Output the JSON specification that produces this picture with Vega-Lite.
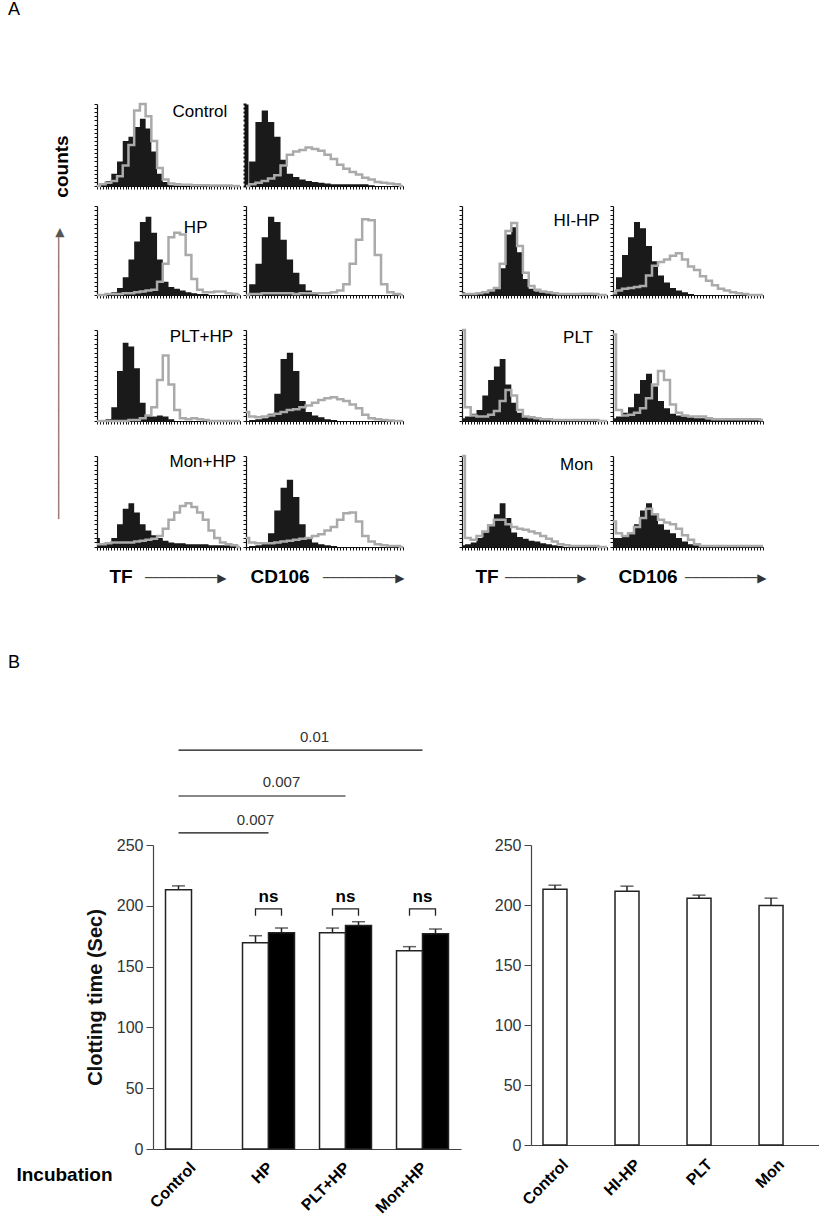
{
"$schema":"https://vega.github.io/schema/vega-lite/v6.json",
"padding":{"left":8,"top":1,"right":0,"bottom":0},
"bounds":"flush",
"columns":5,
"align":"each",
"spacing":{"row":0,"column":6},
"config":{
 "view":{"stroke":null},
 "font":"Liberation Sans",
 "axis":{"labels":false,"grid":false,"domainColor":"#111","tickColor":"#111","tickSize":3,"domainWidth":1.2,"tickWidth":1},
 "axisX":{"tickCount":40},
 "axisY":{"tickCount":20},
 "title":{"font":"Liberation Sans","fontWeight":"normal","color":"#000","anchor":"start","frame":"group"},
 "text":{"font":"Liberation Sans"}
},
"datasets":{
"lab":[{"p":"C1","t":"Control"},{"p":"H1","t":"HP"},{"p":"P1","t":"PLT+HP"},{"p":"M1","t":"Mon+HP"},{"p":"I1","t":"HI-HP"},{"p":"L1","t":"PLT"},{"p":"N1","t":"Mon"}],
"bars":[
{"c":"L","g":"Control","s":"white","v":213.1,"e":216.4},
{"c":"L","g":"HP","s":"white","v":169.7,"e":175.4},
{"c":"L","g":"HP","s":"black","v":177.9,"e":181.7},
{"c":"L","g":"PLT+HP","s":"white","v":177.9,"e":181.7},
{"c":"L","g":"PLT+HP","s":"black","v":183.9,"e":186.9},
{"c":"L","g":"Mon+HP","s":"white","v":163.1,"e":166.4},
{"c":"L","g":"Mon+HP","s":"black","v":177.0,"e":180.9},
{"c":"R","g":"Control","s":"white","v":213.2,"e":216.5},
{"c":"R","g":"HI-HP","s":"white","v":211.5,"e":215.7},
{"c":"R","g":"PLT","s":"white","v":205.7,"e":208.2},
{"c":"R","g":"Mon","s":"white","v":199.6,"e":205.7}],
"sig":[{"g":"Control","s":"white","g2":"HP","y":259.9},{"g":"Control","s":"white","g2":"PLT+HP","y":290.3},{"g":"Control","s":"white","g2":"Mon+HP","y":328.1}],
"sigt":[{"g":"HP","s":"white","y":270.6,"t":"0.007"},{"g":"HP","s":"black","y":301.8,"t":"0.007"},{"g":"PLT+HP","s":"white","y":338.8,"t":"0.01"}],
"ns":[
{"g":"HP","s":"white","y":191.9,"o":1},{"g":"HP","s":"white","y":197.4,"o":2},{"g":"HP","s":"black","y":197.4,"o":3},{"g":"HP","s":"black","y":191.9,"o":4},
{"g":"PLT+HP","s":"white","y":191.9,"o":1},{"g":"PLT+HP","s":"white","y":197.4,"o":2},{"g":"PLT+HP","s":"black","y":197.4,"o":3},{"g":"PLT+HP","s":"black","y":191.9,"o":4},
{"g":"Mon+HP","s":"white","y":191.9,"o":1},{"g":"Mon+HP","s":"white","y":197.4,"o":2},{"g":"Mon+HP","s":"black","y":197.4,"o":3},{"g":"Mon+HP","s":"black","y":191.9,"o":4}],
"nst":[{"g":"HP","y":203.5,"t":"ns"},{"g":"PLT+HP","y":203.5,"t":"ns"},{"g":"Mon+HP","y":203.5,"t":"ns"}],
"h":[
{"p":"C1","x":0,"f":0,"g":0},{"p":"C1","x":4,"f":2,"g":2},{"p":"C1","x":8,"f":6,"g":4},{"p":"C1","x":12,"f":15,"g":6},{"p":"C1","x":16,"f":30,"g":12},{"p":"C1","x":20,"f":55,"g":25},{"p":"C1","x":24,"f":60,"g":50},{"p":"C1","x":28,"f":72,"g":92},{"p":"C1","x":32,"f":82,"g":100},{"p":"C1","x":36,"f":70,"g":85},{"p":"C1","x":40,"f":42,"g":55},{"p":"C1","x":44,"f":15,"g":22},{"p":"C1","x":48,"f":5,"g":8},{"p":"C1","x":52,"f":1,"g":3},{"p":"C1","x":56,"f":0.5,"g":2},{"p":"C1","x":60,"f":0,"g":1.5},{"p":"C1","x":64,"f":0,"g":1.5},{"p":"C1","x":68,"f":0,"g":1},{"p":"C1","x":72,"f":0,"g":1},{"p":"C1","x":76,"f":0,"g":1},{"p":"C1","x":80,"f":0,"g":0.5},{"p":"C1","x":84,"f":0,"g":0.5},{"p":"C1","x":88,"f":0,"g":0.5},{"p":"C1","x":92,"f":0,"g":0.5},{"p":"C1","x":96,"f":0,"g":0},{"p":"C1","x":100,"f":0,"g":0},
{"p":"C2","x":0,"f":0,"g":0},{"p":"C2","x":4,"f":30,"g":2},{"p":"C2","x":8,"f":78,"g":4},{"p":"C2","x":12,"f":92,"g":6},{"p":"C2","x":16,"f":78,"g":9},{"p":"C2","x":20,"f":60,"g":13},{"p":"C2","x":24,"f":32,"g":25},{"p":"C2","x":28,"f":15,"g":38},{"p":"C2","x":32,"f":11,"g":42},{"p":"C2","x":36,"f":8,"g":44},{"p":"C2","x":40,"f":6,"g":47},{"p":"C2","x":44,"f":5,"g":45},{"p":"C2","x":48,"f":4,"g":43},{"p":"C2","x":52,"f":3,"g":38},{"p":"C2","x":56,"f":2,"g":33},{"p":"C2","x":60,"f":2,"g":26},{"p":"C2","x":64,"f":2,"g":21},{"p":"C2","x":68,"f":2,"g":17},{"p":"C2","x":72,"f":2,"g":14},{"p":"C2","x":76,"f":2,"g":10},{"p":"C2","x":80,"f":1,"g":8},{"p":"C2","x":84,"f":0,"g":5},{"p":"C2","x":88,"f":0,"g":4},{"p":"C2","x":92,"f":0,"g":3},{"p":"C2","x":96,"f":0,"g":2},{"p":"C2","x":100,"f":0,"g":0},
{"p":"H1","x":0,"f":0,"g":0},{"p":"H1","x":4,"f":0,"g":0},{"p":"H1","x":8,"f":1,"g":1},{"p":"H1","x":12,"f":3,"g":1},{"p":"H1","x":16,"f":8,"g":1},{"p":"H1","x":20,"f":20,"g":2},{"p":"H1","x":24,"f":40,"g":2},{"p":"H1","x":28,"f":60,"g":3},{"p":"H1","x":32,"f":82,"g":4},{"p":"H1","x":36,"f":88,"g":5},{"p":"H1","x":40,"f":70,"g":6},{"p":"H1","x":44,"f":40,"g":15},{"p":"H1","x":48,"f":15,"g":35},{"p":"H1","x":52,"f":9,"g":65},{"p":"H1","x":56,"f":7,"g":70},{"p":"H1","x":60,"f":5,"g":68},{"p":"H1","x":64,"f":3,"g":45},{"p":"H1","x":68,"f":2,"g":18},{"p":"H1","x":72,"f":1,"g":6},{"p":"H1","x":76,"f":1,"g":3},{"p":"H1","x":80,"f":0,"g":3},{"p":"H1","x":84,"f":0,"g":4},{"p":"H1","x":88,"f":0,"g":4},{"p":"H1","x":92,"f":0,"g":2},{"p":"H1","x":96,"f":0,"g":1},{"p":"H1","x":100,"f":0,"g":0},
{"p":"H2","x":0,"f":0,"g":0},{"p":"H2","x":4,"f":12,"g":1},{"p":"H2","x":8,"f":35,"g":1},{"p":"H2","x":12,"f":65,"g":2},{"p":"H2","x":16,"f":88,"g":2},{"p":"H2","x":20,"f":82,"g":2},{"p":"H2","x":24,"f":62,"g":2},{"p":"H2","x":28,"f":40,"g":2},{"p":"H2","x":32,"f":25,"g":1},{"p":"H2","x":36,"f":12,"g":2},{"p":"H2","x":40,"f":5,"g":2},{"p":"H2","x":44,"f":2,"g":2},{"p":"H2","x":48,"f":0,"g":2},{"p":"H2","x":52,"f":0,"g":2},{"p":"H2","x":56,"f":0,"g":3},{"p":"H2","x":60,"f":0,"g":5},{"p":"H2","x":64,"f":0,"g":12},{"p":"H2","x":68,"f":0,"g":35},{"p":"H2","x":72,"f":0,"g":62},{"p":"H2","x":76,"f":0,"g":85},{"p":"H2","x":80,"f":0,"g":84},{"p":"H2","x":84,"f":0,"g":45},{"p":"H2","x":88,"f":0,"g":12},{"p":"H2","x":92,"f":0,"g":3},{"p":"H2","x":96,"f":0,"g":1},{"p":"H2","x":100,"f":0,"g":0},
{"p":"P1","x":0,"f":0,"g":0},{"p":"P1","x":4,"f":0,"g":0},{"p":"P1","x":8,"f":2,"g":0},{"p":"P1","x":12,"f":15,"g":0},{"p":"P1","x":16,"f":55,"g":0},{"p":"P1","x":20,"f":86,"g":0},{"p":"P1","x":24,"f":82,"g":1},{"p":"P1","x":28,"f":58,"g":1},{"p":"P1","x":32,"f":20,"g":3},{"p":"P1","x":36,"f":6,"g":6},{"p":"P1","x":40,"f":5,"g":15},{"p":"P1","x":44,"f":6,"g":45},{"p":"P1","x":48,"f":5,"g":72},{"p":"P1","x":52,"f":2,"g":40},{"p":"P1","x":56,"f":0,"g":12},{"p":"P1","x":60,"f":0,"g":3},{"p":"P1","x":64,"f":0,"g":2},{"p":"P1","x":68,"f":0,"g":3},{"p":"P1","x":72,"f":0,"g":2},{"p":"P1","x":76,"f":0,"g":1},{"p":"P1","x":80,"f":0,"g":0},{"p":"P1","x":84,"f":0,"g":0},{"p":"P1","x":88,"f":0,"g":0},{"p":"P1","x":92,"f":0,"g":0},{"p":"P1","x":96,"f":0,"g":0},{"p":"P1","x":100,"f":0,"g":0},
{"p":"P2","x":0,"f":0,"g":10},{"p":"P2","x":4,"f":1,"g":5},{"p":"P2","x":8,"f":2,"g":4},{"p":"P2","x":12,"f":3,"g":5},{"p":"P2","x":16,"f":8,"g":6},{"p":"P2","x":20,"f":30,"g":8},{"p":"P2","x":24,"f":68,"g":10},{"p":"P2","x":28,"f":75,"g":12},{"p":"P2","x":32,"f":55,"g":13},{"p":"P2","x":36,"f":22,"g":15},{"p":"P2","x":40,"f":10,"g":17},{"p":"P2","x":44,"f":6,"g":20},{"p":"P2","x":48,"f":4,"g":23},{"p":"P2","x":52,"f":2,"g":25},{"p":"P2","x":56,"f":1,"g":26},{"p":"P2","x":60,"f":0,"g":24},{"p":"P2","x":64,"f":0,"g":22},{"p":"P2","x":68,"f":0,"g":18},{"p":"P2","x":72,"f":0,"g":14},{"p":"P2","x":76,"f":0,"g":7},{"p":"P2","x":80,"f":0,"g":3},{"p":"P2","x":84,"f":0,"g":2},{"p":"P2","x":88,"f":0,"g":1},{"p":"P2","x":92,"f":0,"g":0.5},{"p":"P2","x":96,"f":0,"g":0},{"p":"P2","x":100,"f":0,"g":0},
{"p":"M1","x":0,"f":10,"g":3},{"p":"M1","x":4,"f":3,"g":3},{"p":"M1","x":8,"f":4,"g":4},{"p":"M1","x":12,"f":10,"g":5},{"p":"M1","x":16,"f":25,"g":5},{"p":"M1","x":20,"f":42,"g":5},{"p":"M1","x":24,"f":48,"g":5},{"p":"M1","x":28,"f":38,"g":6},{"p":"M1","x":32,"f":25,"g":7},{"p":"M1","x":36,"f":18,"g":8},{"p":"M1","x":40,"f":13,"g":9},{"p":"M1","x":44,"f":10,"g":12},{"p":"M1","x":48,"f":7,"g":20},{"p":"M1","x":52,"f":5,"g":30},{"p":"M1","x":56,"f":4,"g":38},{"p":"M1","x":60,"f":4,"g":45},{"p":"M1","x":64,"f":3,"g":48},{"p":"M1","x":68,"f":3,"g":44},{"p":"M1","x":72,"f":3,"g":38},{"p":"M1","x":76,"f":3,"g":30},{"p":"M1","x":80,"f":2,"g":18},{"p":"M1","x":84,"f":2,"g":10},{"p":"M1","x":88,"f":2,"g":5},{"p":"M1","x":92,"f":2,"g":3},{"p":"M1","x":96,"f":1,"g":2},{"p":"M1","x":100,"f":0,"g":0},
{"p":"M2","x":0,"f":0,"g":10},{"p":"M2","x":4,"f":1,"g":5},{"p":"M2","x":8,"f":2,"g":4},{"p":"M2","x":12,"f":5,"g":4},{"p":"M2","x":16,"f":15,"g":4},{"p":"M2","x":20,"f":40,"g":5},{"p":"M2","x":24,"f":65,"g":6},{"p":"M2","x":28,"f":74,"g":7},{"p":"M2","x":32,"f":55,"g":8},{"p":"M2","x":36,"f":25,"g":9},{"p":"M2","x":40,"f":10,"g":10},{"p":"M2","x":44,"f":5,"g":12},{"p":"M2","x":48,"f":3,"g":14},{"p":"M2","x":52,"f":2,"g":18},{"p":"M2","x":56,"f":1,"g":22},{"p":"M2","x":60,"f":0,"g":30},{"p":"M2","x":64,"f":0,"g":37},{"p":"M2","x":68,"f":0,"g":38},{"p":"M2","x":72,"f":0,"g":28},{"p":"M2","x":76,"f":0,"g":12},{"p":"M2","x":80,"f":0,"g":6},{"p":"M2","x":84,"f":0,"g":3},{"p":"M2","x":88,"f":0,"g":2},{"p":"M2","x":92,"f":0,"g":1},{"p":"M2","x":96,"f":0,"g":1},{"p":"M2","x":100,"f":0,"g":0},
{"p":"I1","x":0,"f":3,"g":1},{"p":"I1","x":4,"f":2,"g":1},{"p":"I1","x":8,"f":2,"g":1},{"p":"I1","x":12,"f":3,"g":2},{"p":"I1","x":16,"f":4,"g":3},{"p":"I1","x":20,"f":6,"g":5},{"p":"I1","x":24,"f":8,"g":8},{"p":"I1","x":28,"f":30,"g":35},{"p":"I1","x":32,"f":68,"g":72},{"p":"I1","x":36,"f":76,"g":81},{"p":"I1","x":40,"f":48,"g":55},{"p":"I1","x":44,"f":18,"g":25},{"p":"I1","x":48,"f":7,"g":10},{"p":"I1","x":52,"f":4,"g":6},{"p":"I1","x":56,"f":3,"g":4},{"p":"I1","x":60,"f":2,"g":3},{"p":"I1","x":64,"f":1,"g":2},{"p":"I1","x":68,"f":0,"g":1},{"p":"I1","x":72,"f":0,"g":1},{"p":"I1","x":76,"f":0,"g":1},{"p":"I1","x":80,"f":0,"g":1},{"p":"I1","x":84,"f":0,"g":1.5},{"p":"I1","x":88,"f":0,"g":1.5},{"p":"I1","x":92,"f":0,"g":1},{"p":"I1","x":96,"f":0,"g":0},{"p":"I1","x":100,"f":0,"g":0},
{"p":"I2","x":0,"f":2,"g":2},{"p":"I2","x":4,"f":20,"g":5},{"p":"I2","x":8,"f":45,"g":7},{"p":"I2","x":12,"f":65,"g":8},{"p":"I2","x":16,"f":82,"g":9},{"p":"I2","x":20,"f":75,"g":10},{"p":"I2","x":24,"f":55,"g":22},{"p":"I2","x":28,"f":38,"g":33},{"p":"I2","x":32,"f":22,"g":37},{"p":"I2","x":36,"f":14,"g":40},{"p":"I2","x":40,"f":8,"g":44},{"p":"I2","x":44,"f":5,"g":47},{"p":"I2","x":48,"f":3,"g":40},{"p":"I2","x":52,"f":1,"g":32},{"p":"I2","x":56,"f":0,"g":28},{"p":"I2","x":60,"f":0,"g":21},{"p":"I2","x":64,"f":0,"g":16},{"p":"I2","x":68,"f":0,"g":11},{"p":"I2","x":72,"f":0,"g":7},{"p":"I2","x":76,"f":0,"g":5},{"p":"I2","x":80,"f":0,"g":3},{"p":"I2","x":84,"f":0,"g":2},{"p":"I2","x":88,"f":0,"g":1},{"p":"I2","x":92,"f":0,"g":0},{"p":"I2","x":96,"f":0,"g":0},{"p":"I2","x":100,"f":0,"g":0},
{"p":"L1","x":0,"f":3,"g":100},{"p":"L1","x":4,"f":5,"g":15},{"p":"L1","x":8,"f":8,"g":6},{"p":"L1","x":12,"f":12,"g":5},{"p":"L1","x":16,"f":28,"g":5},{"p":"L1","x":20,"f":45,"g":7},{"p":"L1","x":24,"f":60,"g":11},{"p":"L1","x":28,"f":68,"g":22},{"p":"L1","x":32,"f":40,"g":34},{"p":"L1","x":36,"f":20,"g":28},{"p":"L1","x":40,"f":9,"g":12},{"p":"L1","x":44,"f":5,"g":5},{"p":"L1","x":48,"f":4,"g":4},{"p":"L1","x":52,"f":3,"g":3},{"p":"L1","x":56,"f":2,"g":2},{"p":"L1","x":60,"f":1,"g":2},{"p":"L1","x":64,"f":0,"g":1},{"p":"L1","x":68,"f":0,"g":1},{"p":"L1","x":72,"f":0,"g":1},{"p":"L1","x":76,"f":0,"g":1},{"p":"L1","x":80,"f":0,"g":1},{"p":"L1","x":84,"f":0,"g":1},{"p":"L1","x":88,"f":0,"g":1},{"p":"L1","x":92,"f":0,"g":1},{"p":"L1","x":96,"f":0,"g":0},{"p":"L1","x":100,"f":0,"g":0},
{"p":"L2","x":0,"f":3,"g":95},{"p":"L2","x":4,"f":5,"g":12},{"p":"L2","x":8,"f":9,"g":6},{"p":"L2","x":12,"f":15,"g":7},{"p":"L2","x":16,"f":30,"g":9},{"p":"L2","x":20,"f":45,"g":14},{"p":"L2","x":24,"f":52,"g":25},{"p":"L2","x":28,"f":38,"g":40},{"p":"L2","x":32,"f":22,"g":55},{"p":"L2","x":36,"f":14,"g":45},{"p":"L2","x":40,"f":8,"g":18},{"p":"L2","x":44,"f":6,"g":9},{"p":"L2","x":48,"f":5,"g":6},{"p":"L2","x":52,"f":4,"g":5},{"p":"L2","x":56,"f":3,"g":5},{"p":"L2","x":60,"f":3,"g":5},{"p":"L2","x":64,"f":2,"g":3},{"p":"L2","x":68,"f":2,"g":2},{"p":"L2","x":72,"f":2,"g":2},{"p":"L2","x":76,"f":1,"g":2},{"p":"L2","x":80,"f":1,"g":2},{"p":"L2","x":84,"f":1,"g":2},{"p":"L2","x":88,"f":1,"g":2},{"p":"L2","x":92,"f":1,"g":2},{"p":"L2","x":96,"f":1,"g":2},{"p":"L2","x":100,"f":1,"g":1},
{"p":"N1","x":0,"f":2,"g":100},{"p":"N1","x":4,"f":3,"g":10},{"p":"N1","x":8,"f":5,"g":8},{"p":"N1","x":12,"f":10,"g":12},{"p":"N1","x":16,"f":16,"g":17},{"p":"N1","x":20,"f":24,"g":24},{"p":"N1","x":24,"f":36,"g":30},{"p":"N1","x":28,"f":48,"g":30},{"p":"N1","x":32,"f":32,"g":25},{"p":"N1","x":36,"f":16,"g":22},{"p":"N1","x":40,"f":11,"g":20},{"p":"N1","x":44,"f":9,"g":19},{"p":"N1","x":48,"f":7,"g":17},{"p":"N1","x":52,"f":6,"g":15},{"p":"N1","x":56,"f":4,"g":12},{"p":"N1","x":60,"f":3,"g":9},{"p":"N1","x":64,"f":2,"g":6},{"p":"N1","x":68,"f":1,"g":3},{"p":"N1","x":72,"f":0,"g":2},{"p":"N1","x":76,"f":0,"g":1},{"p":"N1","x":80,"f":0,"g":1},{"p":"N1","x":84,"f":0,"g":1},{"p":"N1","x":88,"f":0,"g":1},{"p":"N1","x":92,"f":0,"g":1},{"p":"N1","x":96,"f":0,"g":0},{"p":"N1","x":100,"f":0,"g":0},
{"p":"N2","x":0,"f":10,"g":28},{"p":"N2","x":4,"f":10,"g":15},{"p":"N2","x":8,"f":12,"g":12},{"p":"N2","x":12,"f":15,"g":15},{"p":"N2","x":16,"f":25,"g":22},{"p":"N2","x":20,"f":40,"g":32},{"p":"N2","x":24,"f":48,"g":42},{"p":"N2","x":28,"f":36,"g":36},{"p":"N2","x":32,"f":25,"g":30},{"p":"N2","x":36,"f":19,"g":27},{"p":"N2","x":40,"f":15,"g":25},{"p":"N2","x":44,"f":10,"g":20},{"p":"N2","x":48,"f":6,"g":13},{"p":"N2","x":52,"f":3,"g":8},{"p":"N2","x":56,"f":2,"g":3},{"p":"N2","x":60,"f":1,"g":1},{"p":"N2","x":64,"f":1,"g":1},{"p":"N2","x":68,"f":1,"g":1},{"p":"N2","x":72,"f":1,"g":1},{"p":"N2","x":76,"f":1,"g":1},{"p":"N2","x":80,"f":2,"g":1},{"p":"N2","x":84,"f":2,"g":1},{"p":"N2","x":88,"f":2,"g":1},{"p":"N2","x":92,"f":2,"g":1},{"p":"N2","x":96,"f":2,"g":1},{"p":"N2","x":100,"f":2,"g":1}
]
},
"concat":[
  {"width":143,"height":82,
   "title":{"text":"A","fontSize":18,"dx":-89,"dy":-76},
   "layer":[
    {"data":{"name":"h"},"transform":[{"filter":"datum.p==='C1'"}],
     "encoding":{"x":{"field":"x","type":"quantitative","title":null,"scale":{"domain":[0,100],"nice":false}}},
     "layer":[
      {"mark":{"type":"area","interpolate":"step","color":"#1a1a1a"},"encoding":{"y":{"field":"f","type":"quantitative","scale":{"domain":[0,100],"nice":false},"axis":{"title":"counts","titleX":-36,"titleY":62,"titleAngle":270,"titleAlign":"center","titleBaseline":"middle","titleFontSize":19,"titleFontWeight":"bold","titleColor":"#000"}}}},
      {"mark":{"type":"line","interpolate":"step","color":"#aaaaaa","strokeWidth":2.5},"encoding":{"y":{"field":"g","type":"quantitative"}}}
     ]},
    {"data":{"name":"lab"},"transform":[{"filter":"datum.p==='C1'"}],"mark":{"type":"text","fontSize":17},"encoding":{"x":{"datum":72,"type":"quantitative"},"y":{"datum":90,"type":"quantitative"},"text":{"field":"t"}}}
   ]},
  {"width":157,"height":82,
   "data":{"name":"h"},"transform":[{"filter":"datum.p==='C2'"}],
   "encoding":{"x":{"field":"x","type":"quantitative","title":null,"scale":{"domain":[0,100],"nice":false}}},
   "layer":[
    {"mark":{"type":"area","interpolate":"step","color":"#1a1a1a"},"encoding":{"y":{"field":"f","type":"quantitative","title":null,"scale":{"domain":[0,100],"nice":false},"axis":{"domainWidth":4,"tickWidth":2}}}},
    {"mark":{"type":"line","interpolate":"step","color":"#aaaaaa","strokeWidth":2.5},"encoding":{"y":{"field":"g","type":"quantitative"}}}
   ]},
  {"width":47,"height":102,"data":{"values":[]},"mark":"point"},
  {"width":145,"height":1,"data":{"values":[]},"mark":"point"},
  {"width":150,"height":1,"data":{"values":[]},"mark":"point"},

  {"width":143,"height":89,
   "layer":[
    {"data":{"name":"h"},"transform":[{"filter":"datum.p==='H1'"}],
     "encoding":{"x":{"field":"x","type":"quantitative","title":null,"scale":{"domain":[0,100],"nice":false}}},
     "layer":[
      {"mark":{"type":"area","interpolate":"step","color":"#1a1a1a"},"encoding":{"y":{"field":"f","type":"quantitative","scale":{"domain":[0,100],"nice":false},"axis":{"title":"───────────────────────────────────────▶","titleX":-39,"titleY":167,"titleAngle":270,"titleAlign":"center","titleBaseline":"middle","titleFont":"DejaVu Sans","titleFontSize":12,"titleFontWeight":"normal","titleColor":"#555"}}}},
      {"mark":{"type":"line","interpolate":"step","color":"#aaaaaa","strokeWidth":2.5},"encoding":{"y":{"field":"g","type":"quantitative"}}}
     ]},
    {"data":{"name":"lab"},"transform":[{"filter":"datum.p==='H1'"}],"mark":{"type":"text","fontSize":17},"encoding":{"x":{"datum":69,"type":"quantitative"},"y":{"datum":75,"type":"quantitative"},"text":{"field":"t"}}}
   ]},
  {"width":157,"height":89,
   "data":{"name":"h"},"transform":[{"filter":"datum.p==='H2'"}],
   "encoding":{"x":{"field":"x","type":"quantitative","title":null,"scale":{"domain":[0,100],"nice":false}}},
   "layer":[
    {"mark":{"type":"area","interpolate":"step","color":"#1a1a1a"},"encoding":{"y":{"field":"f","type":"quantitative","title":null,"scale":{"domain":[0,100],"nice":false}}}},
    {"mark":{"type":"line","interpolate":"step","color":"#aaaaaa","strokeWidth":2.5},"encoding":{"y":{"field":"g","type":"quantitative"}}}
   ]},
  {"width":47,"height":124,"data":{"values":[]},"mark":"point"},
  {"width":145,"height":89,
   "layer":[
    {"data":{"name":"h"},"transform":[{"filter":"datum.p==='I1'"}],
     "encoding":{"x":{"field":"x","type":"quantitative","title":null,"scale":{"domain":[0,100],"nice":false}}},
     "layer":[
      {"mark":{"type":"area","interpolate":"step","color":"#1a1a1a"},"encoding":{"y":{"field":"f","type":"quantitative","title":null,"scale":{"domain":[0,100],"nice":false}}}},
      {"mark":{"type":"line","interpolate":"step","color":"#aaaaaa","strokeWidth":2.5},"encoding":{"y":{"field":"g","type":"quantitative"}}}
     ]},
    {"data":{"name":"lab"},"transform":[{"filter":"datum.p==='I1'"}],"mark":{"type":"text","fontSize":17},"encoding":{"x":{"datum":79,"type":"quantitative"},"y":{"datum":83,"type":"quantitative"},"text":{"field":"t"}}}
   ]},
  {"width":150,"height":89,
   "data":{"name":"h"},"transform":[{"filter":"datum.p==='I2'"}],
   "encoding":{"x":{"field":"x","type":"quantitative","title":null,"scale":{"domain":[0,100],"nice":false}}},
   "layer":[
    {"mark":{"type":"area","interpolate":"step","color":"#1a1a1a"},"encoding":{"y":{"field":"f","type":"quantitative","title":null,"scale":{"domain":[0,100],"nice":false}}}},
    {"mark":{"type":"line","interpolate":"step","color":"#aaaaaa","strokeWidth":2.5},"encoding":{"y":{"field":"g","type":"quantitative"}}}
   ]},

  {"width":143,"height":91,
   "layer":[
    {"data":{"name":"h"},"transform":[{"filter":"datum.p==='P1'"}],
     "encoding":{"x":{"field":"x","type":"quantitative","title":null,"scale":{"domain":[0,100],"nice":false}}},
     "layer":[
      {"mark":{"type":"area","interpolate":"step","color":"#1a1a1a"},"encoding":{"y":{"field":"f","type":"quantitative","title":null,"scale":{"domain":[0,100],"nice":false}}}},
      {"mark":{"type":"line","interpolate":"step","color":"#aaaaaa","strokeWidth":2.5},"encoding":{"y":{"field":"g","type":"quantitative"}}}
     ]},
    {"data":{"name":"lab"},"transform":[{"filter":"datum.p==='P1'"}],"mark":{"type":"text","fontSize":17},"encoding":{"x":{"datum":73,"type":"quantitative"},"y":{"datum":92,"type":"quantitative"},"text":{"field":"t"}}}
   ]},
  {"width":157,"height":91,
   "data":{"name":"h"},"transform":[{"filter":"datum.p==='P2'"}],
   "encoding":{"x":{"field":"x","type":"quantitative","title":null,"scale":{"domain":[0,100],"nice":false}}},
   "layer":[
    {"mark":{"type":"area","interpolate":"step","color":"#1a1a1a"},"encoding":{"y":{"field":"f","type":"quantitative","title":null,"scale":{"domain":[0,100],"nice":false}}}},
    {"mark":{"type":"line","interpolate":"step","color":"#aaaaaa","strokeWidth":2.5},"encoding":{"y":{"field":"g","type":"quantitative"}}}
   ]},
  {"width":47,"height":126,"data":{"values":[]},"mark":"point"},
  {"width":145,"height":91,
   "layer":[
    {"data":{"name":"h"},"transform":[{"filter":"datum.p==='L1'"}],
     "encoding":{"x":{"field":"x","type":"quantitative","title":null,"scale":{"domain":[0,100],"nice":false}}},
     "layer":[
      {"mark":{"type":"area","interpolate":"step","color":"#1a1a1a"},"encoding":{"y":{"field":"f","type":"quantitative","title":null,"scale":{"domain":[0,100],"nice":false}}}},
      {"mark":{"type":"line","interpolate":"step","color":"#aaaaaa","strokeWidth":2.5},"encoding":{"y":{"field":"g","type":"quantitative"}}}
     ]},
    {"data":{"name":"lab"},"transform":[{"filter":"datum.p==='L1'"}],"mark":{"type":"text","fontSize":17},"encoding":{"x":{"datum":80,"type":"quantitative"},"y":{"datum":91,"type":"quantitative"},"text":{"field":"t"}}}
   ]},
  {"width":150,"height":91,
   "data":{"name":"h"},"transform":[{"filter":"datum.p==='L2'"}],
   "encoding":{"x":{"field":"x","type":"quantitative","title":null,"scale":{"domain":[0,100],"nice":false}}},
   "layer":[
    {"mark":{"type":"area","interpolate":"step","color":"#1a1a1a"},"encoding":{"y":{"field":"f","type":"quantitative","title":null,"scale":{"domain":[0,100],"nice":false}}}},
    {"mark":{"type":"line","interpolate":"step","color":"#aaaaaa","strokeWidth":2.5},"encoding":{"y":{"field":"g","type":"quantitative"}}}
   ]},

  {"width":143,"height":91,
   "title":{"text":"──────────▶","orient":"bottom","font":"DejaVu Sans","fontSize":12,"color":"#333","dx":48,"dy":-17},
   "layer":[
    {"data":{"name":"h"},"transform":[{"filter":"datum.p==='M1'"}],
     "encoding":{"x":{"field":"x","type":"quantitative","title":"TF","scale":{"domain":[0,100],"nice":false},"axis":{"titleX":12,"titleY":29,"titleAlign":"left","titleBaseline":"middle","titleFontSize":19,"titleFontWeight":"bold","titleColor":"#000"}}},
     "layer":[
      {"mark":{"type":"area","interpolate":"step","color":"#1a1a1a"},"encoding":{"y":{"field":"f","type":"quantitative","title":null,"scale":{"domain":[0,100],"nice":false}}}},
      {"mark":{"type":"line","interpolate":"step","color":"#aaaaaa","strokeWidth":2.5},"encoding":{"y":{"field":"g","type":"quantitative"}}}
     ]},
    {"data":{"name":"lab"},"transform":[{"filter":"datum.p==='M1'"}],"mark":{"type":"text","fontSize":17},"encoding":{"x":{"datum":74,"type":"quantitative"},"y":{"datum":93,"type":"quantitative"},"text":{"field":"t"}}}
   ]},
  {"width":157,"height":91,
   "title":{"text":"──────────▶","orient":"bottom","font":"DejaVu Sans","fontSize":12,"color":"#333","dx":77,"dy":-17},
   "data":{"name":"h"},"transform":[{"filter":"datum.p==='M2'"}],
   "encoding":{"x":{"field":"x","type":"quantitative","title":"CD106","scale":{"domain":[0,100],"nice":false},"axis":{"titleX":4,"titleY":29,"titleAlign":"left","titleBaseline":"middle","titleFontSize":19,"titleFontWeight":"bold","titleColor":"#000"}}},
   "layer":[
    {"mark":{"type":"area","interpolate":"step","color":"#1a1a1a"},"encoding":{"y":{"field":"f","type":"quantitative","title":null,"scale":{"domain":[0,100],"nice":false}}}},
    {"mark":{"type":"line","interpolate":"step","color":"#aaaaaa","strokeWidth":2.5},"encoding":{"y":{"field":"g","type":"quantitative"}}}
   ]},
  {"width":47,"height":389,"data":{"values":[]},"mark":"point"},
  {"width":145,"height":91,
   "title":{"text":"──────────▶","orient":"bottom","font":"DejaVu Sans","fontSize":12,"color":"#333","dx":43,"dy":-17},
   "layer":[
    {"data":{"name":"h"},"transform":[{"filter":"datum.p==='N1'"}],
     "encoding":{"x":{"field":"x","type":"quantitative","title":"TF","scale":{"domain":[0,100],"nice":false},"axis":{"titleX":13,"titleY":29,"titleAlign":"left","titleBaseline":"middle","titleFontSize":19,"titleFontWeight":"bold","titleColor":"#000"}}},
     "layer":[
      {"mark":{"type":"area","interpolate":"step","color":"#1a1a1a"},"encoding":{"y":{"field":"f","type":"quantitative","title":null,"scale":{"domain":[0,100],"nice":false}}}},
      {"mark":{"type":"line","interpolate":"step","color":"#aaaaaa","strokeWidth":2.5},"encoding":{"y":{"field":"g","type":"quantitative"}}}
     ]},
    {"data":{"name":"lab"},"transform":[{"filter":"datum.p==='N1'"}],"mark":{"type":"text","fontSize":17},"encoding":{"x":{"datum":79,"type":"quantitative"},"y":{"datum":90,"type":"quantitative"},"text":{"field":"t"}}}
   ]},
  {"width":150,"height":91,
   "title":{"text":"──────────▶","orient":"bottom","font":"DejaVu Sans","fontSize":12,"color":"#333","dx":72,"dy":-17},
   "data":{"name":"h"},"transform":[{"filter":"datum.p==='N2'"}],
   "encoding":{"x":{"field":"x","type":"quantitative","title":"CD106","scale":{"domain":[0,100],"nice":false},"axis":{"titleX":5,"titleY":29,"titleAlign":"left","titleBaseline":"middle","titleFontSize":19,"titleFontWeight":"bold","titleColor":"#000"}}},
   "layer":[
    {"mark":{"type":"area","interpolate":"step","color":"#1a1a1a"},"encoding":{"y":{"field":"f","type":"quantitative","title":null,"scale":{"domain":[0,100],"nice":false}}}},
    {"mark":{"type":"line","interpolate":"step","color":"#aaaaaa","strokeWidth":2.5},"encoding":{"y":{"field":"g","type":"quantitative"}}}
   ]},

  {"bounds":"flush","spacing":0,"hconcat":[
   {"width":56,"height":1,"data":{"values":[]},"mark":"point"},
   {"width":308,"height":304,
    "title":{"text":"B","fontSize":18,"dx":-145,"dy":-54},
    "layer":[
     {"data":{"name":"bars"},"transform":[{"filter":"datum.c==='L'"}],
      "encoding":{
       "x":{"field":"g","type":"nominal","title":"Incubation","scale":{"domain":["Control","HP","PLT+HP","Mon+HP"],"paddingInner":0.325,"paddingOuter":0.1625},
            "axis":{"labels":true,"labelAngle":-45,"labelAlign":"right","labelBaseline":"top","labelFontSize":16,"labelFontWeight":"bold","labelColor":"#000","ticks":false,"labelPadding":10,"labelOffset":-4,"domainColor":"#444","domainWidth":1.2,"titleX":-41,"titleY":25,"titleAlign":"right","titleBaseline":"middle","titleFontSize":19,"titleFontWeight":"bold","titleColor":"#000"}},
       "xOffset":{"field":"s","type":"nominal","scale":{"domain":["white","black"],"paddingInner":0,"paddingOuter":0}}},
      "layer":[
       {"mark":{"type":"bar","stroke":"#222","strokeWidth":1.5},
        "encoding":{"y":{"field":"v","type":"quantitative","title":"Clotting time (Sec)","scale":{"domain":[0,250],"nice":false},
           "axis":{"values":[0,50,100,150,200,250],"labels":true,"labelFontSize":16,"labelColor":"#333","tickSize":7,"tickColor":"#444","domainColor":"#444","domainWidth":1.2,"labelPadding":3,"titleFontSize":20,"titleFontWeight":"bold","titleColor":"#111","titlePadding":11}},
         "fill":{"field":"s","type":"nominal","scale":{"domain":["white","black"],"range":["#ffffff","#000000"]},"legend":null}}},
       {"mark":{"type":"rule","color":"#222","strokeWidth":1.5},"encoding":{"y":{"field":"v","type":"quantitative"},"y2":{"field":"e"}}},
       {"mark":{"type":"tick","orient":"horizontal","size":13,"thickness":1.5,"color":"#222"},"encoding":{"y":{"field":"e","type":"quantitative"}}}
      ]},
     {"data":{"name":"sig"},"mark":{"type":"rule","color":"#111","strokeWidth":1.2},
      "encoding":{"x":{"field":"g","type":"nominal"},"xOffset":{"field":"s","type":"nominal"},"x2":{"field":"g2"},"y":{"field":"y","type":"quantitative"}}},
     {"data":{"name":"sigt"},"transform":[{"filter":"datum.t==='0.007'"}],"mark":{"type":"text","fontSize":15,"color":"#333","baseline":"middle"},
      "encoding":{"x":{"field":"g","type":"nominal"},"xOffset":{"field":"s","type":"nominal"},"y":{"field":"y","type":"quantitative"},"text":{"field":"t"}}},
     {"data":{"name":"sigt"},"transform":[{"filter":"datum.t==='0.01'"}],"mark":{"type":"text","fontSize":15,"color":"#333","baseline":"middle","dx":-18},
      "encoding":{"x":{"field":"g","type":"nominal"},"xOffset":{"field":"s","type":"nominal"},"y":{"field":"y","type":"quantitative"},"text":{"field":"t"}}},
     {"data":{"name":"ns"},"mark":{"type":"line","color":"#222","strokeWidth":1.3},
      "encoding":{"x":{"field":"g","type":"nominal"},"xOffset":{"field":"s","type":"nominal"},"y":{"field":"y","type":"quantitative"},"detail":{"field":"g"},"order":{"field":"o","type":"quantitative"}}},
     {"data":{"name":"nst"},"mark":{"type":"text","fontSize":17,"fontWeight":"bold","baseline":"alphabetic"},
      "encoding":{"x":{"field":"g","type":"nominal"},"y":{"field":"y","type":"quantitative"},"text":{"field":"t"}}}
    ]},
   {"width":70,"height":1,"data":{"values":[]},"mark":"point"},
   {"width":288,"height":300,
    "data":{"name":"bars"},"transform":[{"filter":"datum.c==='R'"}],
    "encoding":{"x":{"field":"g","type":"nominal","title":null,"scale":{"domain":["Control","HI-HP","PLT","Mon"],"paddingInner":0.667,"paddingOuter":0.333,"align":0.25},
       "axis":{"labels":true,"labelAngle":-45,"labelAlign":"right","labelBaseline":"top","labelFontSize":16,"labelFontWeight":"bold","labelColor":"#000","ticks":false,"labelPadding":11,"labelOffset":5,"domainColor":"#444","domainWidth":1.2}}},
    "layer":[
     {"mark":{"type":"bar","fill":"#ffffff","stroke":"#222","strokeWidth":1.5},
      "encoding":{"y":{"field":"v","type":"quantitative","title":null,"scale":{"domain":[0,250],"nice":false},
         "axis":{"values":[0,50,100,150,200,250],"labels":true,"labelFontSize":16,"labelColor":"#333","tickSize":7,"tickColor":"#444","domainColor":"#444","domainWidth":1.2,"labelPadding":3}}}},
     {"mark":{"type":"rule","color":"#222","strokeWidth":1.5},"encoding":{"y":{"field":"v","type":"quantitative"},"y2":{"field":"e"}}},
     {"mark":{"type":"tick","orient":"horizontal","size":13,"thickness":1.5,"color":"#222"},"encoding":{"y":{"field":"e","type":"quantitative"}}}
    ]}
  ]}
]
}
